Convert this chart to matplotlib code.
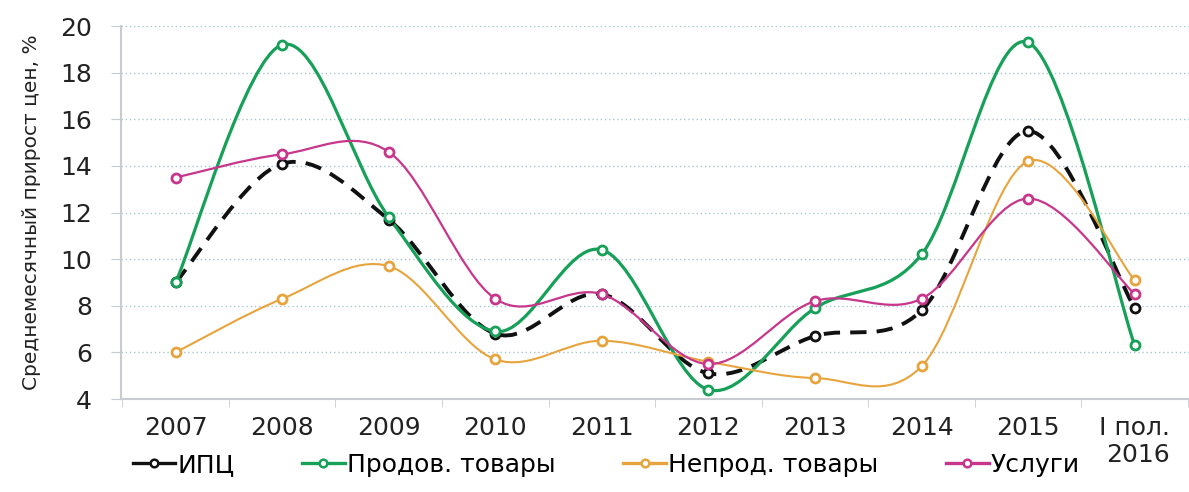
import numpy as np
import matplotlib.pyplot as plt
from matplotlib.path import Path
from matplotlib.patches import PathPatch
from matplotlib.lines import Line2D

plt.rcParams['font.family'] = ['DejaVu Sans']

categories = ['2007', '2008', '2009', '2010', '2011', '2012', '2013', '2014', '2015', 'I пол.\n2016']
cpi = [9.0, 14.1, 11.7, 6.8, 8.5, 5.1, 6.7, 7.8, 15.5, 7.9]
food = [9.0, 19.2, 11.8, 6.9, 10.4, 4.4, 7.9, 10.2, 19.3, 6.3]
nonfood = [6.0, 8.3, 9.7, 5.7, 6.5, 5.6, 4.9, 5.4, 14.2, 9.1]
services = [13.5, 14.5, 14.6, 8.3, 8.5, 5.5, 8.2, 8.3, 12.6, 8.5]

series = [
    ('ИПЦ', cpi, '#111111', (0, (4.2, 2.6)), 2.8),
    ('Продов. товары', food, '#16a058', '-', 2.3),
    ('Непрод. товары', nonfood, '#e8a43c', '-', 1.5),
    ('Услуги', services, '#c8368c', '-', 1.6),
]


def smooth_path(x, y):
    # cubic Bezier segments through every point (Catmull-Rom tangents)
    pts = np.column_stack([x, y]).astype(float)
    n = len(pts)
    verts = [pts[0]]
    codes = [Path.MOVETO]
    for i in range(n - 1):
        p0 = pts[i - 1] if i > 0 else pts[i]
        p1 = pts[i]
        p2 = pts[i + 1]
        p3 = pts[i + 2] if i + 2 < n else pts[i + 1]
        c1 = p1 + (p2 - p0) / 6.0
        c2 = p2 - (p3 - p1) / 6.0
        verts += [c1, c2, p2]
        codes += [Path.CURVE4] * 3
    return Path(verts, codes)


fig = plt.figure(figsize=(11.89, 4.92), dpi=100)
ax = fig.add_axes([0.102, 0.189, 0.898, 0.758])

x = np.arange(len(categories))
handles = []
for name, vals, color, ls, lw in series:
    ax.add_patch(PathPatch(smooth_path(x, vals), fill=False, edgecolor=color,
                           lw=lw, linestyle=ls, capstyle='butt', zorder=3))
    ax.plot(x, vals, ls='none', marker='o', ms=6.5, mfc='white', mec=color,
            mew=2.0, zorder=4)
    handles.append(Line2D([], [], color=color, lw=2.4, marker='o', ms=5.5,
                          mfc='white', mec=color, mew=1.8))

ax.set_ylim(4, 20)
ax.set_yticks(range(4, 21, 2))
ax.set_xlim(-0.51, len(categories) - 0.49)
ax.set_xticks(x)
ax.set_xticklabels(categories, fontsize=18, color='#222222', multialignment='right')
ax.set_xticks(np.arange(-0.5, len(categories), 1), minor=True)
ax.tick_params(axis='x', which='major', length=0, pad=12)
ax.tick_params(axis='x', which='minor', length=6, color='#c8ccd0')
ax.tick_params(axis='y', length=7, color='#c8ccd0', pad=14, labelsize=18,
               labelcolor='#222222')

ax.grid(axis='y', color='#a9c4d4', linestyle=(0, (1, 2)), lw=1.0)
ax.set_axisbelow(True)
for side in ('top', 'right'):
    ax.spines[side].set_visible(False)
for side in ('left', 'bottom'):
    ax.spines[side].set_color('#c8ccd0')
    ax.spines[side].set_linewidth(1.5)

ax.set_ylabel('Среднемесячный прирост цен, %', fontsize=14.5, color='#222222', labelpad=14)

fig.legend(handles, [s[0] for s in series], loc='center', bbox_to_anchor=(0.51, 0.055),
           ncol=4, frameon=False, fontsize=18, handlelength=1.7, handletextpad=0.1,
           columnspacing=2.7, borderaxespad=0)

fig.savefig('out.png', dpi=100)
